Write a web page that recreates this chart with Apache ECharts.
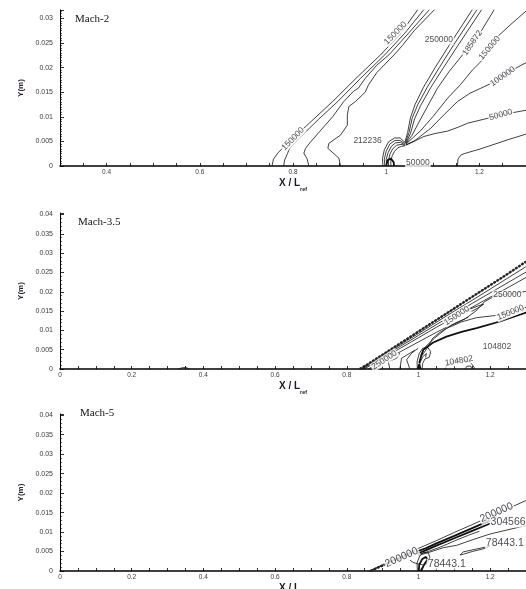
<!DOCTYPE html>
<html><head><meta charset="utf-8">
<script src="https://cdn.jsdelivr.net/npm/echarts/dist/echarts.min.js"></script>
<style>html,body{margin:0;padding:0;background:#fff}#c{width:526px;height:589px}</style>
</head><body><div id="c"></div>
<script>
// ---------------- Panel 1 : Mach-2 ----------------
const m2Shock1 = [[0.755,0],[0.758,0.0014],[0.768,0.0027],[0.785,0.0043],[0.835,0.0087],[0.885,0.0131],[0.935,0.0178],[0.988,0.0226],[1.03,0.0268],[1.068,0.0318]];
const m2Shock2 = [[0.780,0],[0.782,0.0012],[0.788,0.0025],[0.793,0.0036],[0.815,0.0058],[0.855,0.0095],[0.896,0.0131],[0.945,0.0178],[0.997,0.0226],[1.04,0.0270],[1.081,0.0318]];
const m2Shock3 = [[0.834,0],[0.8305,0.0014],[0.8233,0.0026],[0.827,0.0036],[0.837,0.0048],[0.86,0.0073],[0.885,0.0100],[0.909,0.0131],[0.93,0.0152],[0.94,0.0158],[0.955,0.0178],[0.98,0.0205],[1.006,0.0226],[1.05,0.0272],[1.093,0.0318]];
const m2Shock4 = [[0.902,0],[0.8985,0.0016],[0.8748,0.0036],[0.877,0.0046],[0.9022,0.0063],[0.9166,0.0083],[0.9166,0.0104],[0.92,0.0121],[0.934,0.0131],[0.955,0.0150],[0.962,0.0165],[0.98,0.0190],[1.017,0.0226],[1.035,0.0245],[1.06,0.0275],[1.104,0.0318]];
const m2Bubble1 = [[0.993,0],[0.992,0.0015],[0.996,0.0033],[1.005,0.0049],[1.018,0.0057],[1.030,0.0057],[1.040,0.0048]];
const m2Bubble2 = [[0.997,0],[0.996,0.0014],[1.000,0.0030],[1.008,0.0045],[1.019,0.0052],[1.030,0.0052],[1.040,0.0045]];
const m2Bubble3 = [[1.001,0],[1.000,0.0013],[1.004,0.0027],[1.011,0.0040],[1.020,0.0047],[1.031,0.0048],[1.040,0.0043]];
const m2Bubble4 = [[1.005,0],[1.005,0.0012],[1.008,0.0024],[1.014,0.0035],[1.022,0.0042],[1.032,0.0044],[1.040,0.0042]];
const m2Bubble5 = [[1.010,0],[1.010,0.0011],[1.013,0.0021],[1.018,0.0030],[1.025,0.0037],[1.033,0.0040],[1.040,0.0041]];
const m2Bubble6 = [[1.000,0],[1.003,0.0012],[1.010,0.0015],[1.016,0.0008],[1.017,0]];
const m2Steep1 = [[1.040,0.0048],[1.046,0.0068],[1.052,0.0098],[1.062,0.0125],[1.080,0.0160],[1.105,0.0200],[1.135,0.0245],[1.185,0.0318]];
const m2Steep2 = [[1.041,0.0047],[1.049,0.0068],[1.056,0.0098],[1.068,0.0125],[1.088,0.0160],[1.114,0.0200],[1.144,0.0245],[1.195,0.0318]];
const m2Steep3 = [[1.042,0.0046],[1.052,0.0066],[1.061,0.0096],[1.074,0.0123],[1.096,0.0160],[1.123,0.0200],[1.154,0.0245],[1.205,0.0318]];
const m2Fan185872 = [[1.042,0.0045],[1.055,0.0062],[1.068,0.0085],[1.088,0.0120],[1.110,0.0158],[1.135,0.0192],[1.164,0.0226],[1.200,0.0268],[1.232,0.0318]];
const m2Fan150000 = [[1.042,0.0044],[1.058,0.0058],[1.074,0.0072],[1.100,0.0100],[1.132,0.0138],[1.160,0.0166],[1.185,0.0195],[1.203,0.0212],[1.239,0.0263],[1.27,0.0290],[1.304,0.0318]];
const m2Fan100000 = [[1.042,0.0043],[1.062,0.0052],[1.096,0.0077],[1.125,0.0105],[1.153,0.0131],[1.180,0.0148],[1.203,0.0158],[1.230,0.0170],[1.265,0.0192],[1.304,0.0212]];
const m2Fan50000 = [[1.042,0.0042],[1.060,0.0050],[1.081,0.0060],[1.105,0.0066],[1.132,0.0071],[1.155,0.0079],[1.175,0.0087],[1.218,0.0097],[1.246,0.0104],[1.304,0.0114]];
const m2Low = [[1.153,0],[1.154,0.0014],[1.160,0.0022],[1.167,0.0025],[1.203,0.0035],[1.26,0.0053],[1.304,0.0066]];
const m2Labels = [['150000',0.800,0.0055,46],['150000',1.020,0.0270,46],['250000',1.113,0.0256,0],['185872',1.185,0.0250,55],['150000',1.222,0.0240,50],['100000',1.250,0.0182,35],['50000',1.246,0.0104,15],['212236',0.960,0.0051,0],['50000',1.068,0.0007,0]];

// ---------------- Panel 2 : Mach-3.5 ----------------
const m35Band1 = [[0.836,0],[0.86,0.0013],[0.90,0.0037],[0.95,0.0067],[1.0,0.0097],[1.05,0.0127],[1.10,0.0157],[1.15,0.0187],[1.20,0.0217],[1.25,0.0247],[1.30,0.0278]];
const m35Band2 = [[0.840,0],[0.86,0.0011],[0.90,0.0034],[0.95,0.0063],[1.0,0.0092],[1.05,0.0121],[1.10,0.0150],[1.15,0.0178],[1.20,0.0207],[1.25,0.0236],[1.30,0.0265]];
const m35Band3 = [[0.843,0],[0.90,0.0031],[0.95,0.0059],[1.0,0.0087],[1.05,0.0115],[1.10,0.0143],[1.15,0.0170],[1.20,0.0197],[1.25,0.0224],[1.30,0.0251]];
const m35Band4 = [[0.848,0],[0.90,0.0027],[0.95,0.0054],[1.0,0.0081],[1.05,0.0108],[1.10,0.0134],[1.15,0.0160],[1.20,0.0186],[1.25,0.0211],[1.30,0.0237]];
const m35Line250 = [[0.86,0],[0.90,0.0020],[0.95,0.0045],[1.0,0.0070],[1.05,0.0095],[1.10,0.0118],[1.13,0.0130],[1.16,0.0150],[1.185,0.0175],[1.215,0.0190],[1.26,0.0195],[1.30,0.0201]];
const m35Line150 = [[1.006,0.0035],[1.02,0.0058],[1.045,0.0080],[1.078,0.0105],[1.12,0.0122],[1.162,0.0133],[1.21,0.0138],[1.25,0.0146],[1.30,0.0160]];
const m35Thick = [[1.002,0.0015],[1.008,0.0035],[1.0135,0.0050],[1.04,0.0068],[1.078,0.0084],[1.12,0.0096],[1.162,0.0106],[1.227,0.0123],[1.30,0.0146]];
const m35Mid = [[1.01,0.0035],[1.025,0.0055],[1.04,0.0080],[1.06,0.0095],[1.09,0.0112],[1.12,0.0125],[1.14,0.0135]];
const m35Loop = [[1.13,0.0150],[1.165,0.0163],[1.182,0.0168],[1.17,0.0160],[1.15,0.0150],[1.13,0.0150]];
const m35Sq1 = [[0.948,0],[0.953,0.0028],[0.976,0.0041],[0.990,0.0049]];
const m35Sq2 = [[0.976,0],[0.967,0.0024],[0.981,0.0041],[0.9995,0.0054]];
const m35Sq3 = [[0.920,0],[0.916,0.0019],[0.939,0.0028],[0.948,0.0041]];
const m35Bubble1 = [[0.997,0],[0.996,0.0018],[1.002,0.0040],[1.012,0.0054],[1.026,0.0056],[1.034,0.0045],[1.030,0.0030],[1.018,0.0026],[1.012,0.0015],[1.010,0]];
const m35Bubble2 = [[1.003,0],[1.004,0.0015],[1.012,0.0032],[1.022,0.0040],[1.027,0.0036],[1.020,0.0030]];
const m35Foot = [[0.998,0],[1.002,0.0012],[1.006,0]];
const m35Arc1 = [[1.074,0],[1.08,0.0012],[1.10,0.0022],[1.125,0.0025],[1.145,0.0017],[1.155,0.0005],[1.157,0]];
const m35Arc2 = [[1.13,0],[1.135,0.0007],[1.145,0.0008],[1.15,0]];
const m35Bump = [[0.33,0],[0.34,0.0003],[0.352,0.0004],[0.36,0]];
const m35Labels = [['250000',0.905,0.0023,33],['150000',1.107,0.0138,33],['250000',1.248,0.0192,0],['150000',1.257,0.0146,22],['104802',1.219,0.0059,0],['104802',1.113,0.0021,10]];

// ---------------- Panel 3 : Mach-5 ----------------
const m5Top = [[0.862,0],[0.90,0.0016],[0.95,0.0037],[1.0,0.0058],[1.05,0.0078],[1.10,0.0099],[1.15,0.0119],[1.20,0.0140],[1.25,0.0160],[1.30,0.0181]];
const m5Top2 = [[0.866,0],[0.90,0.0014],[0.95,0.0034],[0.99,0.0050]];
const m5Band1 = [[0.995,0.0050],[1.02,0.0058],[1.05,0.0071],[1.10,0.0090],[1.15,0.0110],[1.19,0.0126],[1.22,0.0138]];
const m5Band2 = [[0.998,0.0045],[1.02,0.0053],[1.05,0.0065],[1.10,0.0084],[1.15,0.0103],[1.19,0.0118],[1.20,0.0122]];
const m5Band4 = [[0.999,0.0042],[1.03,0.0051],[1.06,0.0061],[1.10,0.0077],[1.14,0.0092],[1.17,0.0102]];
const m5Band3 = [[1.0,0.0040],[1.03,0.0048],[1.07,0.0060],[1.107,0.0066],[1.15,0.0080],[1.20,0.0095],[1.283,0.0113],[1.30,0.0117]];
const m5Loop = [[1.116,0.0041],[1.125,0.0049],[1.16,0.0056],[1.19,0.0062],[1.20,0.0064],[1.185,0.0058],[1.15,0.0050],[1.125,0.0043],[1.116,0.0041]];
const m5Bubble1 = [[0.997,0],[0.996,0.0020],[1.003,0.0038],[1.015,0.0048],[1.028,0.0046],[1.032,0.0034],[1.025,0.0022],[1.015,0.0015],[1.010,0]];
const m5Bubble2 = [[1.001,0],[1.002,0.0016],[1.010,0.0030],[1.020,0.0036],[1.026,0.0030],[1.018,0.0020],[1.012,0.0010],[1.006,0]];
const m5Hook = [[0.976,0.0028],[0.985,0.0022],[1.0,0.0018],[1.012,0.0016]];
const m5Labels = [['200000',0.953,0.0035,24],['200000',1.218,0.0150,24],['304566',1.250,0.0126,0],['78443.1',1.241,0.0071,0],['78443.1',1.079,0.0018,0]];

const panelTitles = ['Mach-2','Mach-3.5','Mach-5'];
const xMins = [0.3, 0, 0];
const yMaxs = [0.0317, 0.0404, 0.0403];

const panels = [
  {lines:[m2Shock1,m2Shock2,m2Shock3,m2Shock4,m2Bubble1,m2Bubble2,m2Bubble3,m2Bubble4,m2Bubble5,m2Bubble6,m2Steep1,m2Steep2,m2Steep3,m2Fan185872,m2Fan150000,m2Fan100000,m2Fan50000,m2Low], thick:[m2Bubble6], beaded:[], labels:m2Labels, fs:8.5},
  {lines:[m35Band1,m35Band2,m35Band3,m35Band4,m35Line250,m35Line150,m35Thick,m35Mid,m35Loop,m35Sq1,m35Sq2,m35Sq3,m35Bubble1,m35Bubble2,m35Foot,m35Arc1,m35Arc2,m35Bump], thick:[m35Thick,m35Foot], beaded:[m35Band1], labels:m35Labels, fs:8.5},
  {lines:[m5Top,m5Top2,m5Band1,m5Band2,m5Band4,m5Band3,m5Loop,m5Bubble1,m5Bubble2,m5Hook], thick:[m5Bubble2,m5Band1,m5Band2], beaded:[m5Top2], labels:m5Labels, fs:10.5}
];

const SANS = 'Liberation Sans, Arial, sans-serif';
const grids = [
  {left:60, right:0, top:10, height:156},
  {left:60, right:0, top:213, height:156},
  {left:60, right:0, top:414, height:157}
];
const minorSplits = [10,5,5];

function xFmt(v){ const r=v/0.2; return Math.abs(r-Math.round(r))<1e-6 ? String(parseFloat(v.toFixed(2))) : ''; }
function yFmt(v){ return String(parseFloat(v.toFixed(4))); }

const xAxes = [], yAxes = [], series = [], graphics = [];
grids.forEach((g,i)=>{
  g.outerBoundsMode = 'none';
  xAxes.push({
    gridIndex:i, type:'value', min:xMins[i], max:1.3, interval:0.05,
    axisLine:{onZero:false, lineStyle:{color:'#000', width:1.6}},
    axisTick:{inside:true, length:3, lineStyle:{color:'#000', width:0.8}},
    axisLabel:{formatter:xFmt, fontSize:6.5, color:'#3a3a44', margin:3, fontFamily:SANS, hideOverlap:false},
    splitLine:{show:false},
    name:'{a|X / L}{s|ref}', nameLocation:'middle', nameGap:9,
    nameTextStyle:{rich:{
      a:{fontSize:10, fontWeight:'bold', fontFamily:SANS, color:'#1a1a2a', lineHeight:12},
      s:{fontSize:5.5, fontWeight:'bold', fontFamily:SANS, color:'#1a1a2a', lineHeight:17, verticalAlign:'bottom'}
    }}
  });
  yAxes.push({
    gridIndex:i, type:'value', min:0, max:yMaxs[i], interval:0.005,
    axisLine:{onZero:false, lineStyle:{color:'#000', width:1}},
    axisTick:{inside:true, length:4, lineStyle:{color:'#000', width:0.8}},
    minorTick:{show:true, splitNumber:minorSplits[i], length:2, lineStyle:{color:'#000', width:0.6}},
    axisLabel:{formatter:yFmt, fontSize:7, color:'#3a3a44', margin:7, fontFamily:SANS, showMaxLabel:false},
    splitLine:{show:false},
    name:'Y(m)', nameLocation:'middle', nameRotate:90, nameGap:34,
    nameTextStyle:{fontSize:8, fontWeight:'bold', fontFamily:SANS, color:'#2a2030'}
  });
  const p = panels[i];
  p.lines.forEach(arr=>{
    series.push({type:'line', xAxisIndex:i, yAxisIndex:i, data:arr, symbol:'none', showSymbol:false,
      silent:true, clip:true, z:2,
      lineStyle:{color:'#111', width: p.thick.includes(arr) ? 1.8 : 0.8}});
  });
  p.beaded.forEach(arr=>{
    series.push({type:'line', xAxisIndex:i, yAxisIndex:i, data:arr, symbol:'none', showSymbol:false,
      silent:true, clip:true, z:3,
      lineStyle:{color:'#222', width:2.4, type:[2.5,1.2]}});
  });
  series.push({type:'scatter', xAxisIndex:i, yAxisIndex:i, symbolSize:1, z:5, silent:true,
    itemStyle:{color:'rgba(0,0,0,0)'},
    data:p.labels.map(l=>({value:[l[1],l[2]], label:{show:true, formatter:l[0], rotate:l[3], position:'inside',
      fontSize:p.fs, fontFamily:SANS, color:'#1a1a24', backgroundColor:'#fff', padding:[0,1]}}))
  });
});

const titlePos = [[75,14],[78,217],[80,408]];
panelTitles.forEach((t,i)=>{
  graphics.push({type:'text', left:titlePos[i][0], top:titlePos[i][1], z:10,
    style:{text:t, fontSize:11, fontFamily:'Liberation Serif, Times New Roman, serif', fill:'#111'}});
});

const chart = echarts.init(document.getElementById('c'), null, {renderer:'canvas'});
chart.setOption({
  animation:false, backgroundColor:'#fff',
  grid:grids, xAxis:xAxes, yAxis:yAxes, series:series, graphic:graphics
});
</script></body></html>
